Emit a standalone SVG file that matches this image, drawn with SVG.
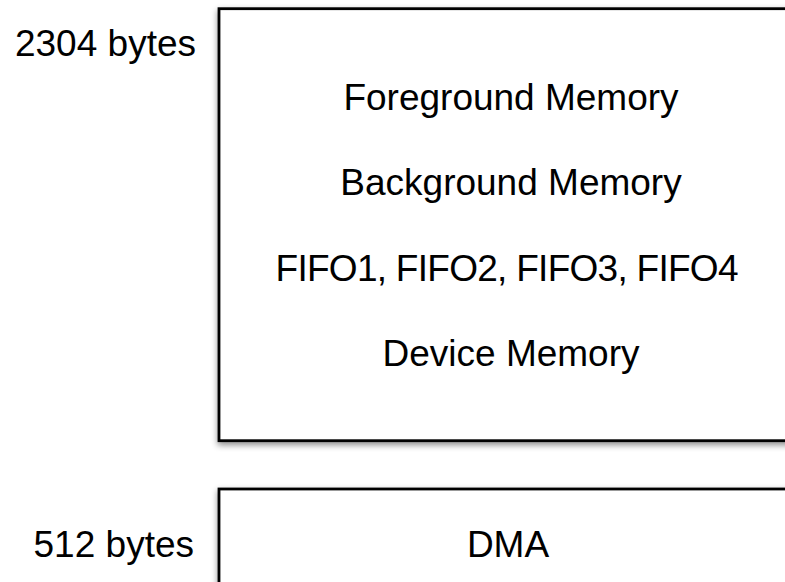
<svg xmlns="http://www.w3.org/2000/svg" width="785" height="582" viewBox="0 0 785 582">
<defs>
<filter id="sh" x="-10%" y="-10%" width="120%" height="120%">
<feDropShadow dx="0" dy="3" stdDeviation="3" flood-color="#000" flood-opacity="0.45"/>
</filter>
</defs>
<style>
.box{fill:#fff;stroke:#000;stroke-width:2.8;filter:url(#sh)}
.t{font-family:"Liberation Sans",Arial,Helvetica,sans-serif;font-size:37px;fill:#000}
.c{text-anchor:middle}
.r{text-anchor:end}
</style>
<rect width="785" height="582" fill="#fff"/>
<g id="main-memory">
<rect class="box" x="219" y="8.7" width="600" height="432"/>
<text class="t c" x="511" y="110">Foreground Memory</text>
<text class="t c" x="511" y="195">Background Memory</text>
<text class="t c" x="507" y="281" textLength="463">FIFO1, FIFO2, FIFO3, FIFO4</text>
<text class="t c" x="511" y="366">Device Memory</text>
</g>
<g id="label-2304">
<text class="t r" x="196" y="56">2304 bytes</text>
</g>
<g id="dma">
<rect class="box" x="219" y="489" width="600" height="120"/>
<text class="t c" x="508" y="557">DMA</text>
</g>
<g id="label-512">
<text class="t r" x="194" y="557">512 bytes</text>
</g>
<g id="connectors"></g>
</svg>
